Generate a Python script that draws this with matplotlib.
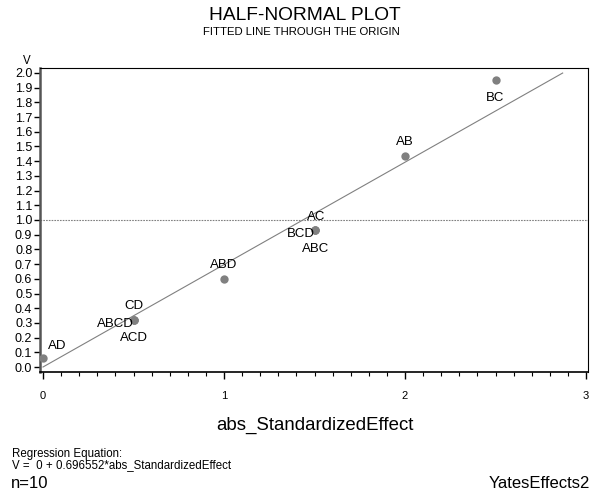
import numpy as np
import matplotlib.pyplot as plt
from matplotlib.ticker import MultipleLocator, FormatStrFormatter

plt.rcParams['font.family'] = ['Liberation Sans', 'DejaVu Sans']

# half-normal plot data
effects = ['AD', 'CD', 'ABCD', 'ACD', 'ABD', 'AC', 'BCD', 'ABC', 'AB', 'BC']
abs_eff = [0.0, 0.5, 0.5, 0.5, 1.0, 1.5, 1.5, 1.5, 2.0, 2.5]
v_vals = [0.06, 0.32, 0.32, 0.32, 0.60, 0.935, 0.935, 0.935, 1.435, 1.95]
# where each label goes around its point: (dx, dy) in points, ha
label_pos = {'AD': (10, 9, 'center'), 'CD': (0, 10, 'center'),
             'ABCD': (0, -3, 'right'), 'ACD': (0, -13, 'center'),
             'ABD': (0, 10, 'center'), 'AC': (1, 9, 'center'),
             'BCD': (0, -3, 'right'), 'ABC': (1, -14, 'center'),
             'AB': (0, 10, 'center'), 'BC': (0, -13, 'center')}

slope = 0.696552
x_end = 2.871

fig = plt.figure(figsize=(5.95, 4.96), dpi=100)
ax = fig.add_axes([40 / 595, 1 - 372 / 496, 548 / 595, 304 / 496])

xl = np.array([0, x_end])
ax.plot(xl, slope * xl, color='#808080', lw=0.8, zorder=2)
ax.axhline(1.0, color='#808080', lw=0.8, ls=(0, (1.5, 1)), zorder=1)
ax.plot(abs_eff, v_vals, 'o', color='#808080', ms=6, mec='none', zorder=3)

for e, x, y in zip(effects, abs_eff, v_vals):
    dx, dy, ha = label_pos[e]
    ax.annotate(e, (x, y), xytext=(dx, dy), textcoords='offset points',
                ha=ha, va='center', fontsize=9.5)

ax.set_xticks([0, 1, 2, 3])
ax.xaxis.set_minor_locator(MultipleLocator(0.1))
ax.yaxis.set_major_locator(MultipleLocator(0.1))
ax.yaxis.set_major_formatter(FormatStrFormatter('%.1f'))
ax.set_xlim(-0.0166, 3.011)
ax.set_ylim(-0.034, 2.034)
ax.tick_params(axis='x', which='major', direction='out', length=5, width=1,
               pad=9, labelsize=8)
ax.tick_params(axis='x', which='minor', direction='out', length=3, width=0.8)
ax.tick_params(axis='y', which='major', direction='out', length=4, width=1,
               pad=1.5, labelsize=9)
for s in ['top', 'right']:
    ax.spines[s].set_linewidth(0.8)
ax.spines['left'].set_linewidth(1.8)
ax.spines['left'].set_color('#555555')
ax.spines['bottom'].set_linewidth(1.2)

fig.text(305 / 595, 1 - 15 / 496, 'HALF-NORMAL PLOT', ha='center', va='center', fontsize=13.8)
fig.text(301 / 595, 1 - 32 / 496, 'FITTED LINE THROUGH THE ORIGIN', ha='center', va='center', fontsize=8.2)
fig.text(27 / 595, 1 - 61 / 496, 'V', ha='center', va='center', fontsize=8.3)
fig.text(315 / 595, 1 - 425 / 496, 'abs_StandardizedEffect', ha='center', va='center', fontsize=13.4)
fig.text(12 / 595, 1 - 454 / 496, 'Regression Equation:', ha='left', va='center', fontsize=8.3)
fig.text(12 / 595, 1 - 465 / 496, 'V =  0 + 0.696552*abs_StandardizedEffect', ha='left', va='center', fontsize=8.3)
fig.text(11 / 595, 1 - 484 / 496, 'n=10', ha='left', va='center', fontsize=12)
fig.text(590 / 595, 1 - 484 / 496, 'YatesEffects2', ha='right', va='center', fontsize=12)

fig.savefig('out.png', dpi=100)
